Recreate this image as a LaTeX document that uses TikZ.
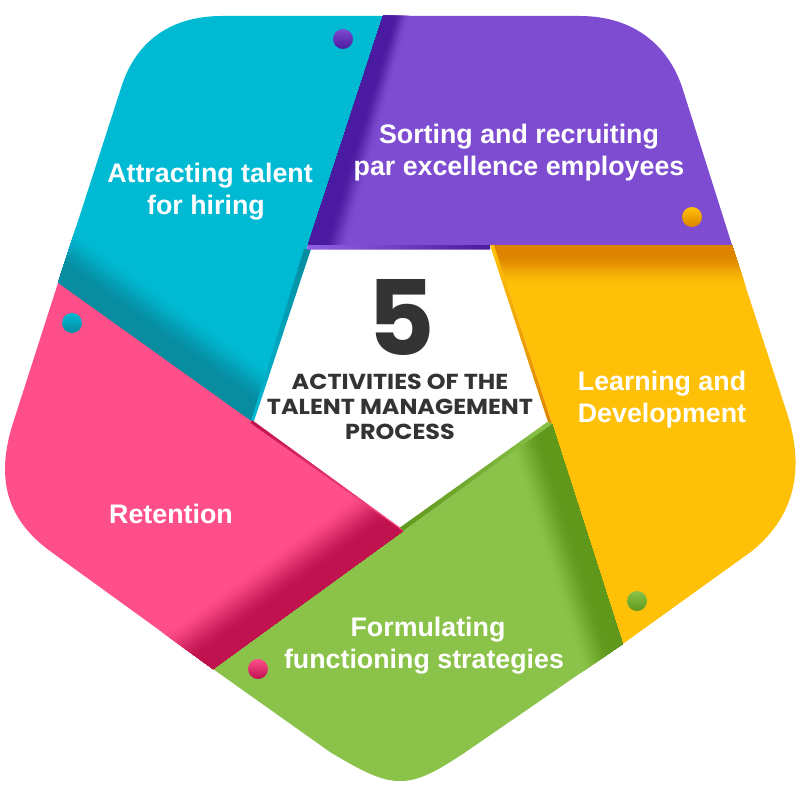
\documentclass[tikz,border=0pt]{standalone}
\usepackage{fontspec}
\setmainfont{Liberation Sans}
\newfontfamily\popfont{Poppins}
\newfontfamily\popwide{Poppins}[FakeStretch=1.1]
\definecolor{cyanbase}{HTML}{00BAD4}
\definecolor{cyandark}{HTML}{078CA0}
\definecolor{purplebase}{HTML}{7E4CD1}
\definecolor{purpledark}{HTML}{4A1AA0}
\definecolor{purplelight}{HTML}{8F62E3}
\definecolor{yellowbase}{HTML}{FFC107}
\definecolor{yellowdark}{HTML}{DD8300}
\definecolor{greenbase}{HTML}{8BC34A}
\definecolor{greendark}{HTML}{5F981B}
\definecolor{pinkbase}{HTML}{FF4F8B}
\definecolor{pinkdark}{HTML}{BF124F}
\definecolor{inktext}{HTML}{333333}
% fold shading: #1,#2 = A; #3,#4 = B; #5,#6 = width vector at A; #7 = hold fraction; #8 dark; #9 base
\def\foldtaper{1}
\newcommand\foldband[9]{%
  \foreach \i in {30,29,...,0}{%
    \pgfmathsetmacro\t{\i/30}%
    \pgfmathsetmacro\u{max(0,(\t-#7)/(1-#7))}%
    \pgfmathsetmacro\p{100*(1-\u*\u*(3-2*\u))}%
    \colorlet{foldmix}{#8!\p!#9}%
    \pgfmathsetmacro\fa{1-0.5*(\foldtaper-1)}%
    \pgfmathsetmacro\fb{1+1.5*(\foldtaper-1)}%
    \pgfmathsetmacro\axx{#1-(#3-#1)*0.5}\pgfmathsetmacro\ayy{#2-(#4-#2)*0.5}%
    \pgfmathsetmacro\bxx{#3+(#3-#1)*0.5}\pgfmathsetmacro\byy{#4+(#4-#2)*0.5}%
    \fill[foldmix] ({\axx+#5*\t*\fa},{\ayy+#6*\t*\fa}) -- ({\bxx+#5*\t*\fb},{\byy+#6*\t*\fb})
      -- ({\bxx-#5*0.3},{\byy-#6*0.3}) -- ({\axx-#5*0.3},{\ayy-#6*0.3}) -- cycle;
  }%
}
\tikzset{
  label text/.style={text=white,font=\fontsize{26.8}{32}\selectfont\bfseries,align=center,inner sep=0pt},
  dotball/.style={shading=axis,shading angle=-45},
}
\begin{document}
\begin{tikzpicture}[x=1pt,y=-1pt]
\useasboundingbox (0,0) rectangle (800,800);
\fill[white] (0,0) rectangle (800,800);
% cyan
\begin{scope}
\clip (383,16) -- (308,245) -- (251,421) -- (58,283) -- (122,85) .. controls (137,40) and (172,16) .. (222,16) -- cycle;
\fill[cyanbase] (0,0) rectangle (800,800);
\foldband{58}{283}{251}{421}{32}{-45}{0.28}{cyandark}{cyanbase}
\end{scope}
\shade[top color=cyandark,bottom color=cyanbase] (304,249) -- (311,249) -- (254,421) -- (251,421) -- cycle;
% purple
\begin{scope}
\clip (383,16) -- (580,16) .. controls (630,16) and (668,42) .. (683,90) -- (732,245) -- (308,245) -- cycle;
\fill[purplebase] (0,0) rectangle (800,800);
\def\foldtaper{1.5}
\foldband{383}{16}{308}{245}{25}{8}{0.4}{purpledark}{purplebase}
\end{scope}
\shade[left color=purplelight,right color=purpledark] (308,245) -- (490,245) -- (490,249.5) -- (307,249.5) -- cycle;
% yellow
\begin{scope}
\clip (494,245) -- (732,245) -- (786,410) .. controls (808,475) and (790,520) .. (752,551) -- (622.7,644) -- (552,424) -- cycle;
\fill[yellowbase] (0,0) rectangle (800,800);
\foldband{494}{245}{732}{245}{0}{42}{0.2}{yellowdark}{yellowbase}
\end{scope}
\shade[top color=yellowbase,bottom color=yellowdark] (490,245) -- (494,245) -- (552,424) -- (548,422) -- cycle;
% green
\begin{scope}
\clip (403,531) -- (552,424) -- (622.7,644) -- (470,749) .. controls (435,773) and (418,781) .. (400,781) .. controls (382,781) and (365,773) .. (330,752) -- (213,669) -- cycle;
\fill[greenbase] (0,0) rectangle (800,800);
\foldband{552}{424}{622.7}{644}{-46}{14.6}{0.3}{greendark}{greenbase}
\end{scope}
\shade[left color=greendark,right color=greenbase] (400,527.5) -- (548,421.5) -- (552,424) -- (403,531) -- cycle;
% pink
\begin{scope}
\clip (58,283) -- (251,421) -- (403,531) -- (213,669) -- (50,551) .. controls (8,520) and (-6,480) .. (14,420) -- cycle;
\fill[pinkbase] (0,0) rectangle (800,800);
\foldband{213}{669}{403}{531}{-35}{-49}{0.3}{pinkdark}{pinkbase}
\end{scope}
\shade[left color=pinkdark,right color=pinkbase] (252,420) -- (400,527.5) -- (403,531) -- (250.5,423) -- cycle;
% dots
\shade[dotball,top color=purplebase,bottom color=purpledark] (343,39) circle (10);
\shade[dotball,top color=yellowbase,bottom color=yellowdark] (692,217) circle (10);
\shade[dotball,top color=cyanbase,bottom color=cyandark] (72,323) circle (10);
\shade[dotball,top color=pinkbase,bottom color=pinkdark] (258,669) circle (10);
\shade[dotball,top color=greenbase,bottom color=greendark] (637,601) circle (10);
% labels
\node[label text] (attract) at (210,191.5) {Attracting talent\\\hspace*{-8pt}for hiring};
\node[label text] (sorting) at (519,153) {Sorting and recruiting\\par excellence employees};
\node[label text] (learning) at (662,400) {Learning and\\Development};
\node[label text] (formulating) at (424,646) {\hspace*{8pt}Formulating\\functioning strategies};
\node[label text] (retention) at (171,514) {Retention};
\node[text=inktext,font=\popfont\bfseries\fontsize{104}{104}\selectfont,inner sep=0pt] (five) at (401,317) {5};
\node[text=inktext,font=\popwide\bfseries\fontsize{21.7}{25}\selectfont,align=center,inner sep=0pt] (activities) at (400,407) {ACTIVITIES OF THE\\TALENT MANAGEMENT\\PROCESS};
\end{tikzpicture}
\end{document}
